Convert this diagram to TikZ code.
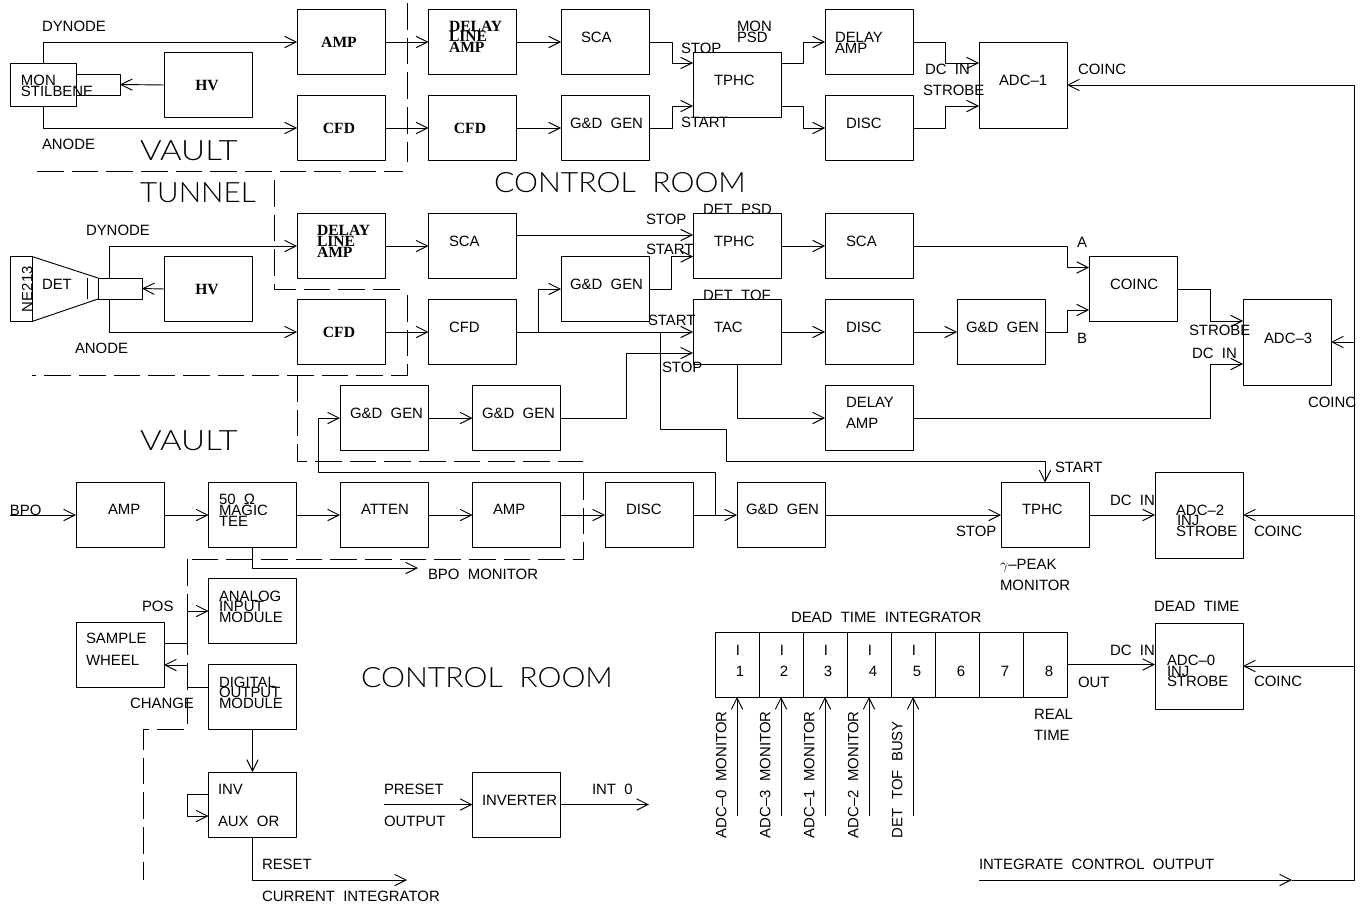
\documentclass[tikz,border=0pt]{standalone}
\usepackage{fontspec}
\setmainfont{Liberation Sans}
\newfontfamily\serifb{Liberation Serif}
\newfontfamily\bigf{Lato}[UprightFont=* Light]
\usetikzlibrary{arrows.meta,calc}
\newcounter{tc}
\newcommand{\lab}[4][]{\stepcounter{tc}\node[lab,#1] (t\thetc) at (#2,#3) {#4};}
\newcommand{\sbc}[3]{\stepcounter{tc}\node[lab,anchor=center,font=\serifb\bfseries\fontsize{11.7}{12}\selectfont] (t\thetc) at (#1,#2) {#3};}
\newcommand{\sbl}[3]{\stepcounter{tc}\node[lab,font=\serifb\bfseries\fontsize{11.7}{12}\selectfont] (t\thetc) at (#1,#2) {#3};}
\newcommand{\biglab}[4]{\stepcounter{tc}\node[lab,text height=15pt,font=\bigf\fontsize{21}{22}\selectfont] (t\thetc) at (#1,#2) {\scalebox{#3}[1]{#4}};}
\newcommand{\bx}[4][]{\node[blk,#1] (#2) at (#3,#4) {};}
\tikzset{
  lab/.style={inner sep=0pt,outer sep=0pt,anchor=west,text height=8.2pt,text depth=0pt,font=\fontsize{11.2}{12}\selectfont},
  blk/.style={draw,minimum width=66pt,minimum height=48.75pt,inner sep=0pt,outer sep=0pt},
  adc/.style={minimum height=64.5pt},
  cell/.style={minimum width=33pt},
  arr/.style={-{Straight Barb[length=8.5pt,width=8.5pt]}},
  vlt/.style={dash pattern=on 20pt off 6pt}
}
\begin{document}
\begin{tikzpicture}[x=0.75pt,y=-0.75pt,line width=0.7pt,line join=round]
\path[use as bounding box,fill=white] (0,0) rectangle (1372,910);
% --- row 1 boxes
\node[draw,inner sep=0pt,outer sep=0pt,minimum width=33pt,minimum height=15.75pt] (pm) at (98,84.5) {};
\node[draw,inner sep=0pt,outer sep=0pt,minimum width=49.5pt,minimum height=32.25pt] (mon) at (43,84.5) {};
\bx{hva}{208}{85}
\bx{ampa}{341}{42}
\bx{cfa}{341}{128}
\bx{dla}{472.5}{42}
\bx{cfa2}{472.5}{128}
\bx{sca}{605}{42}
\bx{gda}{605}{128}
\bx{tpa}{737}{85}
\bx{dya}{869}{42}
\bx{dia}{869}{128}
\bx[adc]{adc1}{1023}{85}
% --- row 2 boxes
\node[draw,inner sep=0pt,outer sep=0pt,minimum width=16.5pt,minimum height=48.75pt] (ne) at (21,289) {};
\node[draw,inner sep=0pt,outer sep=0pt,minimum width=33pt,minimum height=15.75pt] (pmb) at (120,288.5) {};
\coordinate (lensa) at (32,256.5);
\coordinate (lensb) at (98,278);
\coordinate (lensc) at (98,299);
\coordinate (lensd) at (32,321.5);
\coordinate (lense) at (87.5,278);
\coordinate (lensf) at (87.5,299);
\draw (lensa) -- (lensb) (lensd) -- (lensc) (lense) -- (lensf);
\bx{hvb}{208}{289}
\bx{dlb}{341}{246}
\bx{scb}{472.5}{246}
\bx{gdb}{605}{289}
\bx{tpb}{737}{246}
\bx{scc}{869}{246}
\bx{coin}{1133}{289}
\bx{cfb}{341}{332}
\bx{cfb2}{472.5}{332}
\bx{tac}{737}{332}
\bx{dib}{869}{332}
\bx{gdc}{1001}{332}
\bx[adc]{adc3}{1287}{342}
\bx{gdd}{384}{418}
\bx{gde}{516.5}{418}
\bx{dyb}{869}{418}
% --- row 3 boxes
\bx{ampc}{120}{515}
\bx{tee}{252.5}{515}
\bx{att}{384}{515}
\bx{ampd}{516.5}{515}
\bx{dic}{649}{515}
\bx{gdf}{781}{515}
\bx{tpc}{1045}{515}
\bx[adc]{adc2}{1199}{515}
% --- row 4 boxes
\bx{wheel}{120}{654.5}
\bx{anm}{252.5}{611}
\bx{dgm}{252.5}{697}
\bx{inv}{252.5}{804.5}
\bx{invt}{516.5}{804.5}
\bx[adc]{adc0}{1199}{666}
\foreach \i/\cx in {1/737,2/781,3/825,4/869,5/913,6/957,7/1001,8/1045}
  {\node[blk,cell] (c\i) at (\cx,664.5) {};}
% --- helper coordinates
\coordinate (bustop) at (1354,85);
\coordinate (busbot) at (1354,880);
\coordinate (intl) at (979,880);
\coordinate (intm) at (1292,880);
\coordinate (j1) at (538,332);
\coordinate (j2) at (660,332);
\coordinate (j3) at (715,515);
\coordinate (j4) at (318,472);
\coordinate (bpoin) at (10,515);
\coordinate (bpomon) at (418,568);
\coordinate (prein) at (384,804.5);
\coordinate (intout) at (649,804.5);
\coordinate (curint) at (407,880);
% --- row 1 connectors
\draw[arr] (mon.north) |- (ampa.west);
\draw[arr] (mon.south) |- (cfa.west);
\draw[arr] (hva.west) -- (pm.east);
\draw[arr] (ampa.east) -- (dla.west);
\draw[arr] (cfa.east) -- (cfa2.west);
\draw[arr] (dla.east) -- (sca.west);
\draw[arr] (cfa2.east) -- (gda.west);
\draw[arr] (sca.east) -- ++(23,0) |- ($(tpa.west)+(0,-22)$);
\draw[arr] (gda.east) -- ++(23,0) |- ($(tpa.west)+(0,21)$);
\draw[arr] ($(tpa.east)+(0,-22)$) -- ++(22,0) |- (dya.west);
\draw[arr] ($(tpa.east)+(0,21)$) -- ++(22,0) |- (dia.west);
\draw[arr] (dya.east) -- ++(32,0) |- ($(adc1.west)+(0,-22)$);
\draw[arr] (dia.east) -- ++(32,0) |- ($(adc1.west)+(0,21)$);
% --- bus
\draw[arr] (intl) -- (intm);
\draw (intm) -- (busbot) -- (bustop);
\draw[arr] (bustop) -- (adc1.east);
\draw[arr] (adc3.east -| bustop) -- (adc3.east);
\draw[arr] (adc2.east -| bustop) -- (adc2.east);
\draw[arr] (adc0.east -| bustop) -- (adc0.east);
% --- row 2 connectors
\draw[arr] (hvb.west) -- (pmb.east);
\draw[arr] ($(pmb.north)+(-11,0)$) |- (dlb.west);
\draw[arr] ($(pmb.south)+(-11,0)$) |- (cfb.west);
\draw[arr] (dlb.east) -- (scb.west);
\draw[arr] (cfb.east) -- (cfb2.west);
\draw[arr] ($(scb.east)+(0,-11)$) -- ($(tpb.west)+(0,-11)$);
\draw[arr] (cfb2.east) -- (tac.west);
\draw[arr] (j1) |- (gdb.west);
\draw[arr] (gdb.east) -- ++(22,0) |- ($(tpb.west)+(0,10.5)$);
\draw[arr] (tpb.east) -- (scc.west);
\draw[arr] (scc.east) -- ++(154,0) |- ($(coin.west)+(0,-21.5)$);
\draw[arr] (tac.east) -- (dib.west);
\draw[arr] (dib.east) -- (gdc.west);
\draw[arr] (gdc.east) -- ++(22,0) |- ($(coin.west)+(0,21)$);
\draw[arr] (coin.east) -- ++(33,0) |- ($(adc3.west)+(0,-21)$);
\draw[arr] (dyb.east) -- ++(297,0) |- ($(adc3.west)+(0,22)$);
\draw[arr] (tac.south) |- (dyb.west);
\draw[arr] (gdd.east) -- (gde.west);
\draw[arr] (gde.east) -- ++(66,0) |- ($(tac.west)+(0,21)$);
\draw[arr] (j2) -- (660,429) -- (726,429) -- (726,461) -| (tpc.north);
\draw[arr] (j3) -- (j3 |- j4) -- (j4) |- (gdd.west);
% --- row 3 connectors
\draw[arr] (bpoin) -- (ampc.west);
\draw[arr] (ampc.east) -- (tee.west);
\draw[arr] (tee.east) -- (att.west);
\draw[arr] (att.east) -- (ampd.west);
\draw[arr] (ampd.east) -- (dic.west);
\draw[arr] (dic.east) -- (gdf.west);
\draw[arr] (gdf.east) -- (tpc.west);
\draw[arr] (tpc.east) -- (adc2.west);
\draw[arr] (tee.south) |- (bpomon);
% --- row 4 connectors
\draw[arr] ($(wheel.east)+(0,-11.5)$) -- ++(23,0) |- (anm.west);
\draw[arr] ($(dgm.west)+(0,-10)$) -- ++(-21,0) |- ($(wheel.east)+(0,10.5)$);
\draw[arr] (dgm.south) -- (inv.north);
\draw[arr] ($(inv.west)+(0,-10.5)$) -- ++(-21,0) |- ($(inv.west)+(0,11.5)$);
\draw[arr] (inv.south) |- (curint);
\draw[arr] (prein) -- (invt.west);
\draw[arr] (invt.east) -- (intout);
\draw[arr] (c8.east) -- (c8.east -| adc0.west);
\foreach \i in {1,...,5}
  {\coordinate (in\i) at ($(c\i.south)+(0,119)$);
   \draw[arr] (in\i) -- (c\i.south);}
% --- room boundaries
\draw[vlt] (407,3) -- (407,162);
\draw[vlt] (37,171) -- (403,171);
\draw[vlt] (274,180) -- (274,289) -- (400,289);
\draw[vlt] (407,295) -- (407,375) -- (32,375);
\draw[vlt] (297,375) -- (297,461) -- (583,461);
\draw[vlt] (583,473) -- (583,559) -- (187,559);
\draw[vlt] (187,559) -- (187,729) -- (143,729) -- (143,880);
% --- large labels
\biglab{140}{150}{1.18}{VAULT}
\biglab{140}{192}{1.06}{TUNNEL}
\biglab{140}{440}{1.18}{VAULT}
\biglab{494}{182}{1.08}{CONTROL\ \ ROOM}
\biglab{361}{677}{1.08}{CONTROL\ \ ROOM}
% --- serif labels
\sbc{207}{85}{HV}
\sbc{207}{289}{HV}
\sbc{339}{42}{AMP}
\sbc{339}{128}{CFD}
\sbc{339}{332}{CFD}
\sbc{470}{128}{CFD}
\sbl{449}{26}{DELAY}\sbl{449}{36}{LINE}\sbl{449}{47}{AMP}
\sbl{317}{230}{DELAY}\sbl{317}{241}{LINE}\sbl{317}{252}{AMP}
% --- row 1 labels
\lab{42}{26}{DYNODE}
\lab{42}{144}{ANODE}
\lab{21}{80}{MON}
\lab{21}{91}{STILBENE}
\lab{581}{37}{SCA}
\lab{570}{123}{G\&D\ \ GEN}
\lab{714}{80}{TPHC}
\lab{681}{48}{STOP}
\lab{681}{122}{START}
\lab{737}{26}{MON}
\lab{737}{37}{PSD}
\lab{835}{37}{DELAY}
\lab{835}{48}{AMP}
\lab{846}{123}{DISC}
\lab{925}{69}{DC\ \ IN}
\lab{923}{90}{STROBE}
\lab{999}{80}{ADC–1}
\lab{1078}{69}{COINC}
% --- row 2 labels
\lab{86}{230}{DYNODE}
\lab{75}{348}{ANODE}
\lab{42}{284}{DET}
\lab[rotate=90]{27}{312}{NE213}
\lab{449}{241}{SCA}
\lab{449}{327}{CFD}
\lab{570}{284}{G\&D\ \ GEN}
\lab{646}{219}{STOP}
\lab{646}{249}{START}
\lab{703}{209}{DET\ \ PSD}
\lab{703}{295}{DET\ \ TOF}
\lab{714}{241}{TPHC}
\lab{714}{327}{TAC}
\lab{648}{320}{START}
\lab{662}{367}{STOP}
\lab{846}{241}{SCA}
\lab{846}{327}{DISC}
\lab{966}{327}{G\&D\ \ GEN}
\lab{1077}{242}{A}
\lab{1077}{338}{B}
\lab{1110}{284}{COINC}
\lab{1189}{330}{STROBE}
\lab{1192}{353}{DC\ \ IN}
\lab{1264}{338}{ADC–3}
\lab{1308}{402}{COINC}
\lab{350}{413}{G\&D\ \ GEN}
\lab{482}{413}{G\&D\ \ GEN}
\lab{846}{402}{DELAY}
\lab{846}{423}{AMP}
% --- row 3 labels
\lab{10}{510}{BPO}
\lab{108}{509}{AMP}
\lab{219}{499}{50\ \ Ω}
\lab{219}{510}{MAGIC}
\lab{219}{521}{TEE}
\lab{361}{509}{ATTEN}
\lab{493}{509}{AMP}
\lab{626}{509}{DISC}
\lab{746}{509}{G\&D\ \ GEN}
\lab{428}{574}{BPO\ \ MONITOR}
\lab{1055}{467}{START}
\lab{956}{531}{STOP}
\lab{1022}{509}{TPHC}
\lab{1110}{500}{DC\ \ IN}
\lab{1176}{510}{ADC–2}
\lab{1177}{520}{INJ}
\lab{1176}{531}{STROBE}
\lab{1254}{531}{COINC}
\lab{1000}{564}{$\gamma$–PEAK}
\lab{1000}{585}{MONITOR}
% --- row 4 labels
\lab{142}{606}{POS}
\lab{86}{638}{SAMPLE}
\lab{86}{660}{WHEEL}
\lab{130}{703}{CHANGE}
\lab{219}{596}{ANALOG}
\lab{219}{606}{INPUT}
\lab{219}{617}{MODULE}
\lab{219}{682}{DIGITAL}
\lab{219}{692}{OUTPUT}
\lab{219}{703}{MODULE}
\lab{218}{789}{INV}
\lab{218}{821}{AUX\ \ OR}
\lab{262}{864}{RESET}
\lab{262}{896}{CURRENT\ \ INTEGRATOR}
\lab{384}{789}{PRESET}
\lab{384}{821}{OUTPUT}
\lab{482}{800}{INVERTER}
\lab{592}{789}{INT\ \ 0}
\lab{791}{617}{DEAD\ \ TIME\ \ INTEGRATOR}
\lab{1154}{606}{DEAD\ \ TIME}
\foreach \cx/\d in {740/1,784/2,828/3,873/4,917/5,961/6,1005/7,1049/8}
  {\lab[anchor=center]{\cx}{671}{\d}}
\foreach \cx in {738,782,826,870,914}
  {\lab[anchor=center]{\cx}{650}{I}}
\lab{1078}{682}{OUT}
\lab{1110}{650}{DC\ \ IN}
\lab{1167}{660}{ADC–0}
\lab{1167}{671}{INJ}
\lab{1167}{681}{STROBE}
\lab{1254}{681}{COINC}
\lab{1034}{714}{REAL}
\lab{1034}{735}{TIME}
\lab[rotate=90]{721}{838}{ADC–0\ \ MONITOR}
\lab[rotate=90]{765}{838}{ADC–3\ \ MONITOR}
\lab[rotate=90]{809}{838}{ADC–1\ \ MONITOR}
\lab[rotate=90]{853}{838}{ADC–2\ \ MONITOR}
\lab[rotate=90]{897}{838}{DET\ \ TOF\ \ BUSY}
\lab{979}{864}{INTEGRATE\ \ CONTROL\ \ OUTPUT}
\end{tikzpicture}
\end{document}
